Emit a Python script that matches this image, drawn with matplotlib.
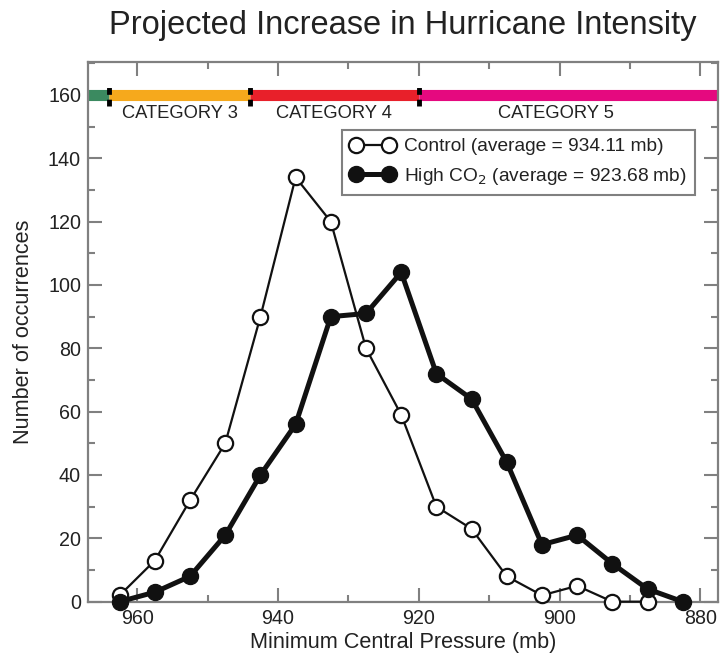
import matplotlib
matplotlib.use("Agg")
import matplotlib.pyplot as plt
from matplotlib.ticker import MultipleLocator

plt.rcParams['font.family'] = ['Liberation Sans', 'DejaVu Sans']

# Bin centres of minimum central pressure (mb)
pressure = [962.5, 957.5, 952.5, 947.5, 942.5, 937.5, 932.5, 927.5, 922.5,
            917.5, 912.5, 907.5, 902.5, 897.5, 892.5, 887.5, 882.5]

control_counts = [2, 13, 32, 50, 90, 134, 120, 80, 59, 30, 23, 8, 2, 5, 0, 0]
high_co2_counts = [0, 3, 8, 21, 40, 56, 90, 91, 104, 72, 64, 44, 18, 21, 12, 4, 0]

control_label = "Control (average = 934.11 mb)"
high_co2_label = "High CO$_2$ (average = 923.68 mb)"

# Saffir-Simpson category bands drawn along the top of the plot
category_edges = [967, 964, 944, 920, 877.5]
category_colors = ["#3b8a60", "#f6a91c", "#e8202a", "#e5097f"]
category_names = ["CATEGORY 3", "CATEGORY 4", "CATEGORY 5"]
category_label_x = [954, 932, 900.5]
category_boundaries = [964, 944, 920]
band_level = 160

axis_grey = "#808080"

fig = plt.figure(figsize=(7.23, 6.53), dpi=100)
ax = fig.add_axes([0.1217, 0.0786, 0.8713, 0.8264])

# Category colour band
for i, c in enumerate(category_colors):
    ax.plot(category_edges[i:i + 2], [band_level, band_level], color=c,
            lw=8, solid_capstyle='butt', zorder=2)
for b in category_boundaries:
    ax.plot([b, b], [band_level - 3.5, band_level + 3.5], color="black",
            lw=3.5, linestyle=(0, (1.4, 1.0)), solid_capstyle='butt',
            zorder=3)
for name, x in zip(category_names, category_label_x):
    ax.text(x, 156.8, name, ha='center', va='top', fontsize=13.2,
            color="#222222")

# Data series
ax.plot(pressure[:len(control_counts)], control_counts, color="#111111",
        lw=1.6, marker='o', markersize=11, markerfacecolor='white',
        markeredgecolor="#111111", markeredgewidth=1.6, clip_on=False,
        zorder=5, label=control_label)
ax.plot(pressure, high_co2_counts, color="#111111", lw=3.6, marker='o',
        markersize=11.5, markerfacecolor="#111111", markeredgecolor="#111111",
        clip_on=False, zorder=6, label=high_co2_label)

ax.set_xlim(967, 877.5)
ax.set_ylim(0, 170.4)
ax.xaxis.set_major_locator(MultipleLocator(20))
ax.xaxis.set_minor_locator(MultipleLocator(10))
ax.yaxis.set_major_locator(MultipleLocator(20))
ax.yaxis.set_minor_locator(MultipleLocator(10))

for sp in ax.spines.values():
    sp.set_color(axis_grey)
    sp.set_linewidth(1.6)
ax.tick_params(which='both', direction='in', top=True, right=True,
               color=axis_grey, width=1.5, zorder=4)
ax.tick_params(which='major', length=10, labelsize=14.2, pad=5,
               labelcolor="#222222")
ax.tick_params(which='minor', length=5)

ax.set_xlabel("Minimum Central Pressure (mb)", fontsize=15.6,
              color="#222222", labelpad=3)
ax.set_ylabel("Number of occurrences", fontsize=15.6, color="#222222",
              labelpad=10)
ax.set_title("Projected Increase in Hurricane Intensity", fontsize=23.5,
             color="#222222", pad=20)

leg = ax.legend(loc='upper right', bbox_to_anchor=(0.9635, 0.874),
                borderaxespad=0, fontsize=13.8, numpoints=2,
                handlelength=2.3, handletextpad=0.5, labelspacing=0.55,
                borderpad=0.42, fancybox=False, framealpha=1)
leg.get_frame().set_edgecolor(axis_grey)
leg.get_frame().set_linewidth(1.5)
for t in leg.get_texts():
    t.set_color("#222222")

fig.savefig("out.png", dpi=100)
